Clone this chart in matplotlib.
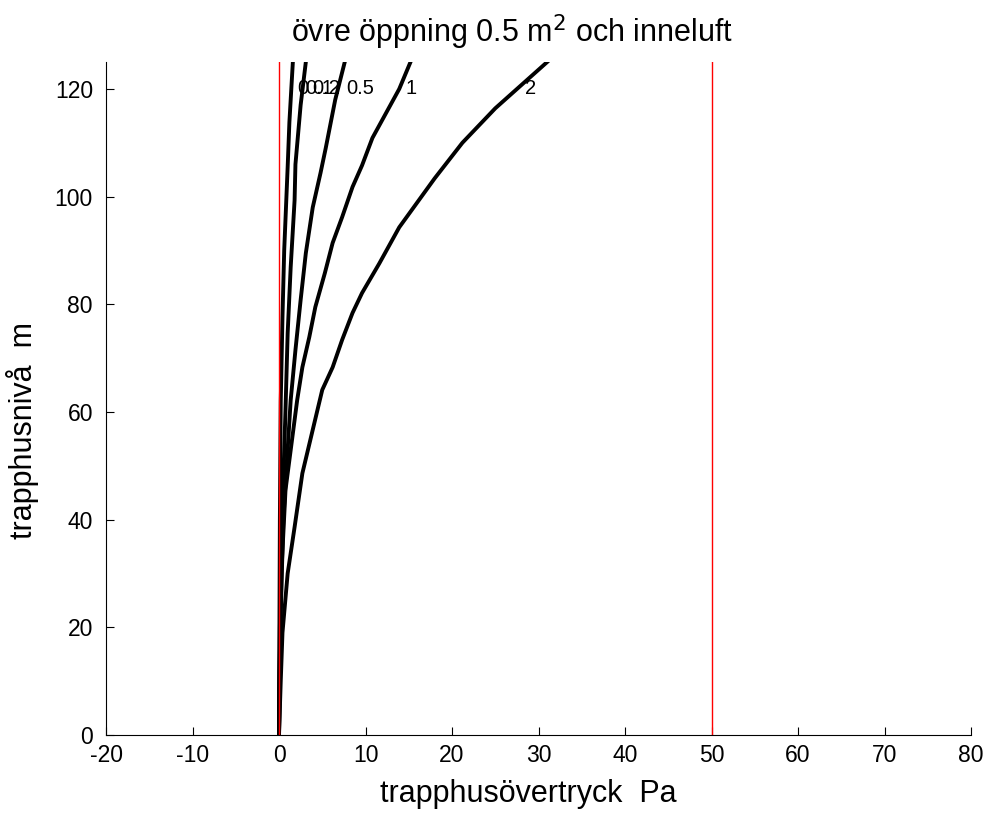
import numpy as np
import matplotlib
matplotlib.use("Agg")
import matplotlib.pyplot as plt

plt.rcParams['font.family'] = ['Liberation Sans', 'DejaVu Sans']
plt.rcParams['axes.unicode_minus'] = False

# curves: (height m, pressure Pa)
h_c0 = [0, 20, 40, 62, 77.6, 90, 105.5, 113.8, 125]
p_c0 = [0, 0.05, 0.1, 0.2, 0.4, 0.6, 1.0, 1.2, 1.6]

h_c1 = [0, 20, 40, 60.4, 74.6, 86.9, 99.3, 106, 117, 125]
p_c1 = [0, 0.1, 0.35, 0.75, 1.0, 1.35, 1.8, 1.9, 2.5, 3.1]

h_c2 = [0, 20, 40, 62.2, 71.5, 80.8, 89.5, 98, 104.4, 109, 118, 125]
p_c2 = [0, 0.15, 0.5, 1.35, 1.9, 2.5, 3.1, 3.9, 4.8, 5.4, 6.5, 7.6]

h_c3 = [0, 15, 31, 45.5, 62.2, 68.3, 73.9, 79.5, 85.8, 91.4, 96.2, 101.8, 105.8, 110.9, 120, 125]
p_c3 = [0, 0.1, 0.3, 0.75, 2.1, 2.7, 3.5, 4.2, 5.3, 6.2, 7.3, 8.5, 9.6, 10.8, 13.9, 15.2]

h_c4 = [0, 10, 19, 30, 38.6, 48.6, 60.4, 64.1, 68.3, 73.4, 78.4, 82.1, 87.6, 94.3, 103.4, 110, 116.4, 125]
p_c4 = [0, 0.2, 0.4, 1.0, 1.8, 2.7, 4.45, 5.0, 6.2, 7.3, 8.5, 9.6, 11.6, 13.9, 18.0, 21.2, 25.0, 31.0]

curves = [(p_c0, h_c0), (p_c1, h_c1), (p_c2, h_c2), (p_c3, h_c3), (p_c4, h_c4)]

label_text = ["0", "0.1", "0.2", "0.5", "1", "2"]
label_x = [2.1, 3.05, 3.85, 7.8, 14.6, 28.4]
label_y = 120

limit_lines = [0, 50]

fig = plt.figure(figsize=(9.88, 8.14), dpi=100)
ax = fig.add_axes([0.1073, 0.0971, 0.8755, 0.8267])

for p, h in curves:
    ax.plot(p, h, color='black', lw=2.8)

for xv in limit_lines:
    ax.axvline(xv, color='red', lw=1.0)

for t, x in zip(label_text, label_x):
    ax.text(x, label_y, t, fontsize=14.5, ha='left', va='center')

ax.set_xlim(-20, 80)
ax.set_ylim(0, 125)
ax.set_xticks(np.arange(-20, 81, 10))
ax.set_yticks(np.arange(0, 121, 20))
ax.tick_params(direction='in', labelsize=16.5, length=6)
ax.tick_params(axis='y', pad=9.4)
ax.tick_params(axis='x', pad=6.3)
ax.spines['top'].set_visible(False)
ax.spines['right'].set_visible(False)

ax.set_xlabel("trapphusövertryck  Pa", fontsize=22)
ax.xaxis.set_label_coords(0.488, -0.066)
ax.set_ylabel("trapphusnivå  m", fontsize=22)
ax.yaxis.set_label_coords(-0.077, 0.453)
ax.set_title("övre öppning 0.5 m$^2$ och inneluft", fontsize=22, x=0.469, pad=14.4)

fig.savefig("out.png")
